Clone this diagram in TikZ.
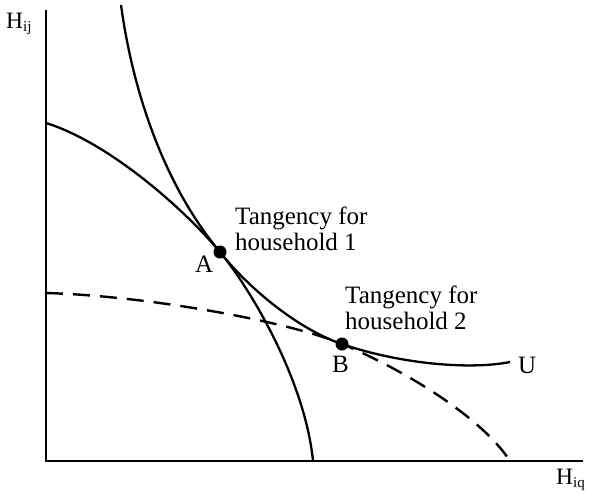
\documentclass[tikz,border=0pt]{standalone}
\usepackage{fontspec}
\setmainfont{Liberation Serif}
\begin{document}
\begin{tikzpicture}[x=1pt,y=-1pt,
  axis/.style={line width=1.4pt},
  curve/.style={line width=2.3pt},
  dcurve/.style={line width=2.4pt, dash pattern=on 17pt off 10pt},
  dot/.style={circle, fill=black, inner sep=0pt, minimum size=13pt},
  lbl/.style={inner sep=0pt, anchor=base west, font=\fontsize{25}{26}\selectfont},
  tlbl/.style={inner sep=0pt, anchor=north west, align=left, font=\fontsize{25}{26}\selectfont},
  hlbl/.style={inner sep=0pt, anchor=base west, font=\fontsize{23.5}{24}\selectfont}]
\useasboundingbox (0,0) rectangle (591,493);
% axes
\coordinate (O) at (46,461);
\coordinate (Ytop) at (46,10);
\coordinate (Xend) at (583,461);
\draw[axis] (Ytop) -- (O) -- (Xend);
% key points
\coordinate (A) at (220,252);
\coordinate (B) at (342,344);
% indifference curve U
\coordinate (Utop) at (121,5);
\coordinate (Uend) at (510,362);
\draw[curve] (Utop) .. controls (134,100) and (168,190) .. (A)
  .. controls (250,290) and (300,330) .. (B)
  .. controls (400,364) and (470,370) .. (Uend);
% frontier of household 1
\coordinate (F1s) at (46,123);
\coordinate (F1e) at (313,461);
\draw[curve] (F1s) .. controls (110,143) and (185,210) .. (A)
  .. controls (250,288) and (305,380) .. (F1e);
% frontier of household 2 (dashed)
\coordinate (F2s) at (46,293);
\coordinate (F2e) at (510,461);
\draw[dcurve] (F2s) .. controls (150,296) and (290,322) .. (B)
  .. controls (400,368) and (480,415) .. (F2e);
% tangency dots
\node[dot] (dotA) at (A) {};
\node[dot] (dotB) at (B) {};
% labels
\node[lbl] (labA) at (195,272) {A};
\node[lbl] (labB) at (332,372) {B};
\node[lbl] (labU) at (518,373) {U};
\node[tlbl] (t1) at (235,207) {Tangency for\\household 1};
\node[tlbl] (t2) at (345,286) {Tangency for\\household 2};
\node[hlbl] (hij) at (6,28) {H\raisebox{-3.5pt}{\fontsize{15}{15}\selectfont ij}};
\node[hlbl] (hiq) at (556,484) {H\raisebox{-3pt}{\fontsize{15}{15}\selectfont iq}};
\end{tikzpicture}
\end{document}
